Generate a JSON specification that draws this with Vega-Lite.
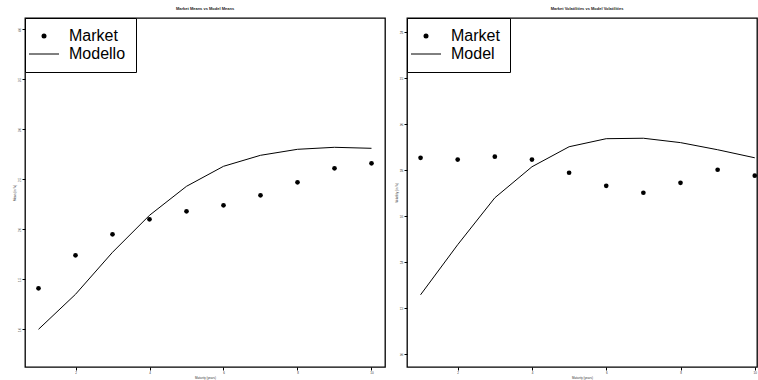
{
  "$schema": "https://vega.github.io/schema/vega-lite/v6.json",
  "background": "white",
  "padding": {"left": 12, "top": 5, "right": 0, "bottom": 0},
  "spacing": 22,
  "bounds": "flush",
  "config": {
    "font": "Liberation Sans",
    "view": {"stroke": "black", "strokeWidth": 1.3},
    "axis": {
      "domain": false,
      "grid": false,
      "tickColor": "black",
      "tickSize": 3,
      "labelFontSize": 3,
      "labelColor": "#333",
      "labelPadding": 1,
      "titleFontSize": 3,
      "titleFontWeight": "normal",
      "titleColor": "#333",
      "titlePadding": 2
    },
    "title": {"fontSize": 4, "fontWeight": "bold", "offset": 7, "anchor": "middle", "color": "#222"},
    "legend": {
      "orient": "top-left",
      "offset": 0,
      "padding": 10,
      "strokeColor": "black",
      "fillColor": "white",
      "cornerRadius": 0,
      "labelFontSize": 16,
      "labelColor": "black",
      "labelOffset": 17,
      "symbolOffset": 1,
      "rowPadding": 2,
      "symbolSize": 300,
      "title": null
    }
  },
  "hconcat": [
    {
      "title": "Market Means vs Model Means",
      "width": 360,
      "height": 349,
      "data": {
        "values": [
          {"maturity": 1, "market": 1.41, "model": 1.00},
          {"maturity": 2, "market": 1.74, "model": 1.35},
          {"maturity": 3, "market": 1.95, "model": 1.77},
          {"maturity": 4, "market": 2.10, "model": 2.14},
          {"maturity": 5, "market": 2.18, "model": 2.43},
          {"maturity": 6, "market": 2.24, "model": 2.63},
          {"maturity": 7, "market": 2.34, "model": 2.74},
          {"maturity": 8, "market": 2.47, "model": 2.80},
          {"maturity": 9, "market": 2.61, "model": 2.82},
          {"maturity": 10, "market": 2.66, "model": 2.81}
        ]
      },
      "layer": [
        {
          "mark": {"type": "line", "strokeWidth": 1, "color": "black"},
          "encoding": {
            "x": {"field": "maturity", "type": "quantitative", "title": "Maturity (years)",
                  "scale": {"domain": [0.635, 10.365], "nice": false, "zero": false},
                  "axis": {"values": [2, 4, 6, 8, 10]}},
            "y": {"field": "model", "type": "quantitative", "title": "Mean (in %)",
                  "scale": {"domain": [0.623, 4.113], "nice": false, "zero": false},
                  "axis": {"values": [1, 1.5, 2, 2.5, 3, 3.5, 4], "format": ".1f", "labelAngle": -90, "labelAlign": "center", "labelBaseline": "bottom"}},
            "color": {"datum": "Modello", "type": "nominal",
                      "scale": {"domain": ["Market", "Modello"], "range": ["black", "black"]},
                      "legend": {
                        "encode": {
                          "symbols": {
                            "update": {
                              "shape": {"signal": "datum.value === 'Market' ? 'circle' : 'stroke'"},
                              "size": {"signal": "datum.value === 'Market' ? 25 : 900"},
                              "fill": {"signal": "datum.value === 'Market' ? 'black' : 'transparent'"},
                              "stroke": {"value": "black"},
                              "strokeWidth": {"signal": "datum.value === 'Market' ? 0 : 1"},
                              "opacity": {"value": 1}
                            }
                          }
                        }
                      }}
          }
        },
        {
          "mark": {"type": "point", "filled": true, "size": 22, "opacity": 1},
          "encoding": {
            "x": {"field": "maturity", "type": "quantitative"},
            "y": {"field": "market", "type": "quantitative"},
            "color": {"datum": "Market", "type": "nominal"}
          }
        }
      ]
    },
    {
      "title": {"text": "Market Volatilities vs Model Volatilities", "dx": 5},
      "width": 350,
      "height": 349,
      "data": {
        "values": [
          {"maturity": 1, "market": 18.53, "model": 12.57},
          {"maturity": 2, "market": 18.45, "model": 14.75},
          {"maturity": 3, "market": 18.58, "model": 16.79},
          {"maturity": 4, "market": 18.45, "model": 18.14},
          {"maturity": 5, "market": 17.88, "model": 19.01},
          {"maturity": 6, "market": 17.31, "model": 19.36},
          {"maturity": 7, "market": 17.01, "model": 19.38},
          {"maturity": 8, "market": 17.44, "model": 19.19},
          {"maturity": 9, "market": 18.01, "model": 18.88},
          {"maturity": 10, "market": 17.75, "model": 18.53}
        ]
      },
      "layer": [
        {
          "mark": {"type": "line", "strokeWidth": 1, "color": "black"},
          "encoding": {
            "x": {"field": "maturity", "type": "quantitative", "title": "Maturity (years)",
                  "scale": {"domain": [0.635, 10.06], "nice": false, "zero": false},
                  "axis": {"values": [2, 4, 6, 8, 10]}},
            "y": {"field": "model", "type": "quantitative", "title": "Volatility (in %)",
                  "scale": {"domain": [9.43, 24.61], "nice": false, "zero": false},
                  "axis": {"values": [10, 12, 14, 16, 18, 20, 22, 24], "labelAngle": -90, "labelAlign": "center", "labelBaseline": "bottom"}},
            "color": {"datum": "Model", "type": "nominal",
                      "scale": {"domain": ["Market", "Model"], "range": ["black", "black"]},
                      "legend": {
                        "encode": {
                          "symbols": {
                            "update": {
                              "shape": {"signal": "datum.value === 'Market' ? 'circle' : 'stroke'"},
                              "size": {"signal": "datum.value === 'Market' ? 25 : 900"},
                              "fill": {"signal": "datum.value === 'Market' ? 'black' : 'transparent'"},
                              "stroke": {"value": "black"},
                              "strokeWidth": {"signal": "datum.value === 'Market' ? 0 : 1"},
                              "opacity": {"value": 1}
                            }
                          }
                        }
                      }}
          }
        },
        {
          "mark": {"type": "point", "filled": true, "size": 22, "opacity": 1},
          "encoding": {
            "x": {"field": "maturity", "type": "quantitative"},
            "y": {"field": "market", "type": "quantitative"},
            "color": {"datum": "Market", "type": "nominal"}
          }
        }
      ]
    }
  ],
  "resolve": {"scale": {"color": "independent", "x": "independent", "y": "independent"}, "legend": {"color": "independent"}}
}
